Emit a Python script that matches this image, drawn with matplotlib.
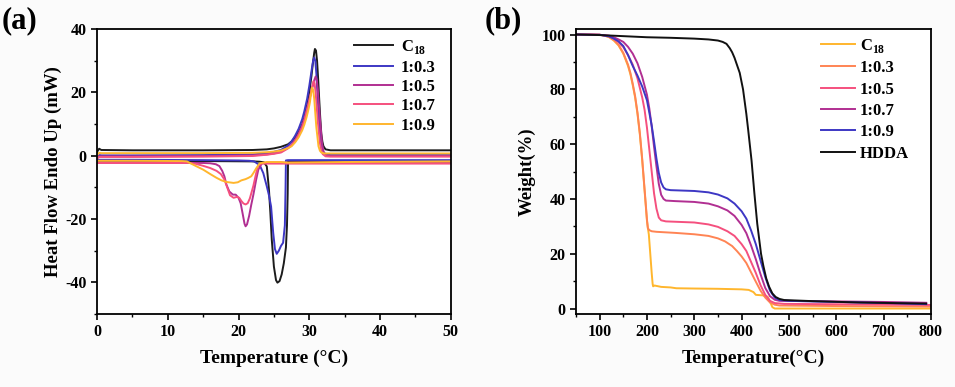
import matplotlib
matplotlib.use("Agg")
import matplotlib.pyplot as plt
from matplotlib.ticker import MultipleLocator

plt.rcParams['font.family'] = ['Liberation Serif', 'DejaVu Serif']
plt.rcParams['font.weight'] = 'bold'
plt.rcParams['mathtext.fontset'] = 'custom'
plt.rcParams['mathtext.rm'] = 'Liberation Serif:bold'
plt.rcParams['mathtext.bf'] = 'Liberation Serif:bold'
plt.rcParams['axes.unicode_minus'] = False

# ---------------- (a) DSC data ----------------
dsc_labels = [r'C$_{\mathbf{18}}$', '1:0.3', '1:0.5', '1:0.7', '1:0.9']
dsc_colors = ['#1c1c1c', '#3d37c4', '#b12f92', '#f5507e', '#ffb62d']

# heating curves (endothermic peak up)
heat_x = [
    [0, 0.3, 0.6, 5, 15, 22, 24, 25, 26, 27, 27.5, 28, 28.5, 29, 29.3, 29.7, 30, 30.3, 30.5, 30.7, 30.8, 30.95,
     31.1, 31.25, 31.4, 31.55, 31.7, 31.85, 32, 32.3, 33, 50],
    [0, 0.3, 0.6, 5, 15, 22, 24, 25, 26, 27, 27.5, 28, 28.5, 29, 29.3, 29.7, 30, 30.2, 30.4, 30.55, 30.7, 30.85,
     31.0, 31.15, 31.3, 31.45, 31.6, 31.8, 32, 32.5, 33, 50],
    [0, 0.3, 0.6, 5, 15, 22, 24, 25, 26, 27, 27.5, 28, 28.5, 29, 29.3, 29.7, 30, 30.3, 30.5, 30.7, 30.9, 31.05,
     31.2, 31.35, 31.5, 31.65, 31.8, 31.95, 32.1, 32.5, 33, 50],
    [0, 0.3, 0.6, 5, 15, 22, 24, 25, 26, 27, 27.5, 28, 28.5, 29, 29.3, 29.6, 29.9, 30.1, 30.3, 30.45, 30.6, 30.75,
     30.9, 31.05, 31.2, 31.35, 31.5, 31.7, 31.9, 32.3, 33, 50],
    [0, 0.3, 0.6, 5, 15, 22, 24, 25, 26, 27, 27.5, 28, 28.5, 29, 29.3, 29.6, 29.8, 30.0, 30.1, 30.25, 30.4, 30.55,
     30.7, 30.85, 31.0, 31.15, 31.3, 31.5, 31.7, 32.1, 33, 50],
]
heat_y = [
    [1.2, 2.2, 1.8, 1.7, 1.7, 1.8, 2.0, 2.3, 2.8, 3.6, 4.5, 5.8, 7.5, 9.8, 12.0, 16.0, 20.0, 25.0, 29.0, 32.5, 33.7, 33.2,
     30.0, 24.5, 18.0, 12.0, 7.0, 4.5, 3.0, 2.0, 1.7, 1.7],
    [-0.5, 0.2, 0.1, 0.1, 0.2, 0.4, 0.8, 1.2, 1.8, 3.2, 4.5, 6.3, 8.5, 11.5, 14.0, 18.0, 22.0, 25.0, 28.0, 30.0, 31.0, 30.0,
     26.0, 20.0, 14.0, 9.0, 5.0, 2.5, 1.0, 0.3, 0.2, 0.2],
    [-0.8, -0.2, -0.2, -0.2, -0.1, 0.1, 0.4, 0.7, 1.2, 2.5, 3.5, 5.0, 7.0, 9.5, 11.5, 14.8, 17.5, 20.5, 22.0, 23.8, 25.0, 24.0,
     21.0, 16.5, 12.0, 8.0, 4.0, 2.0, 0.8, 0.0, -0.1, -0.1],
    [-1.0, -0.4, -0.4, -0.4, -0.3, -0.1, 0.3, 0.6, 1.0, 2.3, 3.2, 4.6, 6.5, 9.0, 11.0, 13.8, 16.5, 18.5, 20.5, 22.2, 23.5, 22.8,
     20.0, 15.5, 11.0, 7.5, 4.0, 1.8, 0.5, -0.2, -0.3, -0.3],
    [0.2, 0.9, 0.8, 0.8, 0.8, 0.9, 1.1, 1.3, 1.6, 2.4, 3.0, 4.2, 5.8, 8.0, 9.8, 12.0, 13.8, 15.8, 17.0, 19.5, 21.5, 20.8,
     18.0, 13.5, 9.0, 6.0, 3.0, 1.6, 1.0, 0.7, 0.7, 0.7],
]

# cooling curves (exothermic peak down)
cool_x = [
    [0, 5, 15, 22, 23, 23.6, 24.0, 24.3, 24.5, 24.7, 25.0, 25.3, 25.5, 25.8, 26.1, 26.4, 26.7, 26.85, 26.95, 27.0, 27.2, 35, 50],
    [0, 5, 15, 20, 21.5, 22.2, 23.0, 23.5, 24.0, 24.3, 24.6, 24.9, 25.15, 25.4, 25.7, 26.0, 26.3, 26.55, 26.65, 26.7, 27.0, 35, 50],
    [0, 5, 15, 16.0, 16.8, 17.3, 17.7, 18.0, 18.3, 18.7, 19.2, 19.6, 20.0, 20.3, 20.6, 20.85, 21.0, 21.2, 21.5, 21.8, 22.1, 22.5,
     22.8, 23.3, 24, 35, 50],
    [0, 5, 12, 13.1, 14.0, 15.0, 16.0, 16.9, 17.5, 18.0, 18.4, 18.8, 19.3, 19.8, 20.1, 20.4, 20.7, 21.0, 21.3, 21.6, 22.1,
     22.5, 22.8, 23.3, 35, 50],
    [0, 5, 12, 12.7, 13.3, 14.0, 15.0, 16.0, 16.9, 17.6, 18.3, 19.3, 19.9, 20.4, 21.0, 21.4, 21.8, 22.1, 22.5, 23.0, 24, 26, 27,
     35, 50],
]
cool_y = [
    [-1.6, -1.6, -1.7, -1.8, -1.9, -2.1, -3.4, -10.7, -18.0, -26.5, -35.0, -39.3, -40.1, -39.6, -37.5, -34.0, -29.0, -22.0,
     -12.0, -1.8, -1.8, -1.8, -1.8],
    [-1.3, -1.3, -1.4, -1.5, -1.6, -1.8, -3.0, -5.5, -9.7, -12.5, -16.0, -24.3, -29.5, -31.0, -30.0, -28.5, -27.5, -22.0,
     -10.0, -1.5, -1.4, -1.4, -1.4],
    [-2.2, -2.2, -2.3, -2.4, -2.7, -3.3, -4.8, -6.5, -9.2, -11.3, -12.3, -12.3, -13.3, -15.0, -18.5, -21.5, -22.3, -21.7,
     -19.0, -15.5, -12.3, -7.5, -4.4, -2.4, -2.2, -2.2, -2.2],
    [-2.3, -2.3, -2.3, -2.3, -2.6, -3.2, -3.9, -4.8, -5.8, -7.5, -10.0, -12.5, -13.3, -13.0, -13.3, -14.3, -15.1, -15.4, -15.0,
     -13.5, -9.5, -5.5, -3.0, -2.5, -2.5, -2.5],
    [-1.6, -1.6, -1.7, -1.8, -2.5, -3.3, -4.4, -5.8, -7.0, -7.8, -8.3, -8.6, -8.4, -7.8, -7.4, -7.0, -6.5, -5.5, -4.0, -2.4,
     -2.0, -2.0, -2.2, -2.0, -1.8],
]

# ---------------- (b) TGA data ----------------
tga_labels = [r'C$_{\mathbf{18}}$', '1:0.3', '1:0.5', '1:0.7', '1:0.9', 'HDDA']
tga_colors = ['#ffb62d', '#ff8454', '#f5507e', '#b12f92', '#3d37c4', '#111111']
tga_x = [
    [50, 80, 100, 110, 120, 130, 140, 150, 160, 165, 170, 175, 180, 185, 190, 195, 200, 202, 204, 207, 210, 212, 213, 216,
     230, 250, 262, 300, 350, 400, 415, 425, 430, 445, 455, 460, 465, 470, 800],
    [50, 80, 100, 110, 120, 130, 140, 150, 160, 165, 170, 175, 180, 185, 190, 195, 200, 202, 205, 210, 220, 260, 300, 330,
     350, 365, 380, 390, 400, 410, 420, 430, 440, 450, 460, 470, 480, 600, 800],
    [50, 100, 120, 130, 140, 150, 160, 170, 180, 190, 195, 200, 205, 210, 215, 220, 225, 230, 240, 300, 330, 350, 370, 385,
     400, 410, 420, 430, 440, 450, 460, 470, 490, 650, 800],
    [50, 100, 120, 130, 140, 150, 160, 170, 180, 190, 200, 205, 210, 215, 220, 225, 230, 235, 240, 260, 300, 330, 350, 370,
     385, 400, 410, 420, 430, 440, 450, 460, 470, 480, 600, 700, 790],
    [50, 100, 120, 130, 140, 150, 160, 170, 180, 190, 200, 205, 210, 215, 220, 225, 230, 235, 240, 250, 300, 330, 350, 370,
     385, 400, 410, 420, 430, 440, 450, 460, 470, 480, 500, 600, 700, 790],
    [50, 100, 150, 200, 250, 300, 330, 350, 360, 368, 375, 380, 385, 390, 396, 403, 410, 414, 421, 427, 433, 441, 446, 452,
     458, 465, 472, 480, 490, 550, 650, 790],
]
tga_y = [
    [100, 100, 99.9, 99.6, 99.0, 97.8, 96.0, 93.0, 88.5, 85.5, 81.5, 77.0, 71.0, 63.5, 54.0, 43.0, 32.0, 29.3, 27.0, 20.0,
     13.0, 9.0, 8.1, 8.4, 7.9, 7.7, 7.4, 7.3, 7.2, 7.0, 6.8, 6.0, 5.0, 4.8, 4.3, 2.5, 0.5, 0.0, 0.0],
    [100, 100, 99.9, 99.6, 99.1, 98.0, 96.2, 93.3, 89.0, 86.0, 82.0, 77.5, 71.5, 64.0, 54.5, 43.5, 32.5, 29.3, 28.6, 28.2,
     28.0, 27.6, 27.1, 26.5, 25.6, 24.5, 22.8, 21.0, 19.0, 16.6, 13.2, 9.8, 6.5, 4.0, 2.2, 1.4, 1.1, 0.9, 0.7],
    [100, 99.9, 99.4, 98.5, 97.2, 95.4, 92.5, 89.0, 84.0, 77.0, 72.5, 66.0, 58.0, 50.0, 42.0, 36.5, 33.2, 32.2, 31.8, 31.4,
     30.7, 29.8, 28.2, 26.5, 23.5, 21.0, 17.0, 13.0, 8.5, 5.0, 2.8, 2.0, 1.7, 1.5, 1.3],
    [100, 99.9, 99.6, 99.0, 98.2, 97.3, 95.5, 93.0, 89.5, 84.5, 78.0, 73.0, 66.5, 59.0, 52.0, 45.5, 41.5, 40.0, 39.4, 39.2,
     38.9, 38.3, 37.3, 35.8, 33.8, 30.5, 27.5, 23.0, 18.0, 12.5, 7.5, 4.5, 3.2, 2.8, 2.6, 2.4, 2.1],
    [100, 99.9, 99.3, 98.5, 97.5, 95.8, 92.5, 88.5, 85.0, 81.0, 76.0, 71.5, 66.8, 61.0, 54.8, 49.5, 46.0, 44.2, 43.5, 43.2,
     42.9, 42.4, 41.6, 40.2, 38.3, 35.5, 32.8, 28.5, 23.5, 17.5, 11.5, 6.5, 4.0, 3.1, 2.8, 2.4, 2.0, 1.6],
    [100, 99.8, 99.4, 99.0, 98.8, 98.5, 98.2, 97.8, 97.3, 96.6, 95.0, 93.5, 91.5, 89.0, 86.0, 80.0, 71.0, 65.0, 54.0, 42.0,
     31.0, 20.0, 15.5, 11.0, 8.0, 5.5, 4.2, 3.5, 3.1, 2.7, 2.2, 1.8],
]


def style_axes(ax):
    for sp in ax.spines.values():
        sp.set_linewidth(1.3)
    ax.tick_params(which='major', direction='out', length=4, width=1.2, labelsize=11.5, pad=3.5)
    ax.tick_params(which='minor', direction='out', length=2.5, width=1.0)
    for lab in ax.get_xticklabels() + ax.get_yticklabels():
        lab.set_fontweight('bold')


fig = plt.figure(figsize=(9.55, 3.87), dpi=100)
fig.patch.set_facecolor('#fbfbfb')
ax1 = fig.add_axes([0.1016, 0.1886, 0.3704, 0.7364])
ax2 = fig.add_axes([0.6031, 0.1886, 0.3717, 0.7364])

# ---- panel a
lines = []
for i in range(len(dsc_labels)):
    ln, = ax1.plot(heat_x[i], heat_y[i], color=dsc_colors[i], lw=1.4, label=dsc_labels[i])
    ax1.plot(cool_x[i], cool_y[i], color=dsc_colors[i], lw=1.4)
    lines.append(ln)
ax1.set_xlim(0, 50)
ax1.set_ylim(-50, 40)
ax1.xaxis.set_major_locator(MultipleLocator(10))
ax1.xaxis.set_minor_locator(MultipleLocator(5))
ax1.yaxis.set_major_locator(MultipleLocator(20))
ax1.yaxis.set_minor_locator(MultipleLocator(10))
ax1.set_xlabel('Temperature (°C)', fontsize=14, fontweight='bold', labelpad=7)
ax1.set_ylabel('Heat Flow Endo Up (mW)', fontsize=13.5, fontweight='bold', labelpad=2)
style_axes(ax1)
ax1.legend(handles=lines, loc='upper right', bbox_to_anchor=(1.0, 1.02), frameon=False,
           handlelength=2.3, handletextpad=0.5, labelspacing=0.2,
           prop={'weight': 'bold', 'size': 12})
fig.text(0.002, 0.985, '(a)', fontsize=22, fontweight='bold', va='top', ha='left')

# ---- panel b
for i in range(len(tga_labels)):
    ax2.plot(tga_x[i], tga_y[i], color=tga_colors[i], lw=1.4, label=tga_labels[i])
ax2.set_xlim(50, 800)
ax2.set_ylim(-2, 102)
ax2.xaxis.set_major_locator(MultipleLocator(100))
ax2.xaxis.set_minor_locator(MultipleLocator(50))
ax2.yaxis.set_major_locator(MultipleLocator(20))
ax2.yaxis.set_minor_locator(MultipleLocator(10))
ax2.set_xlabel('Temperature(°C)', fontsize=14, fontweight='bold', labelpad=7)
ax2.set_ylabel('Weight(%)', fontsize=13.5, fontweight='bold', labelpad=4)
style_axes(ax2)
ax2.legend(loc='upper right', bbox_to_anchor=(0.98, 1.025), frameon=False,
           handlelength=2.0, handletextpad=0.3, labelspacing=0.32,
           prop={'weight': 'bold', 'size': 12})
fig.text(0.507, 0.985, '(b)', fontsize=22, fontweight='bold', va='top', ha='left')

fig.savefig('out.png', dpi=100, facecolor=fig.get_facecolor())
